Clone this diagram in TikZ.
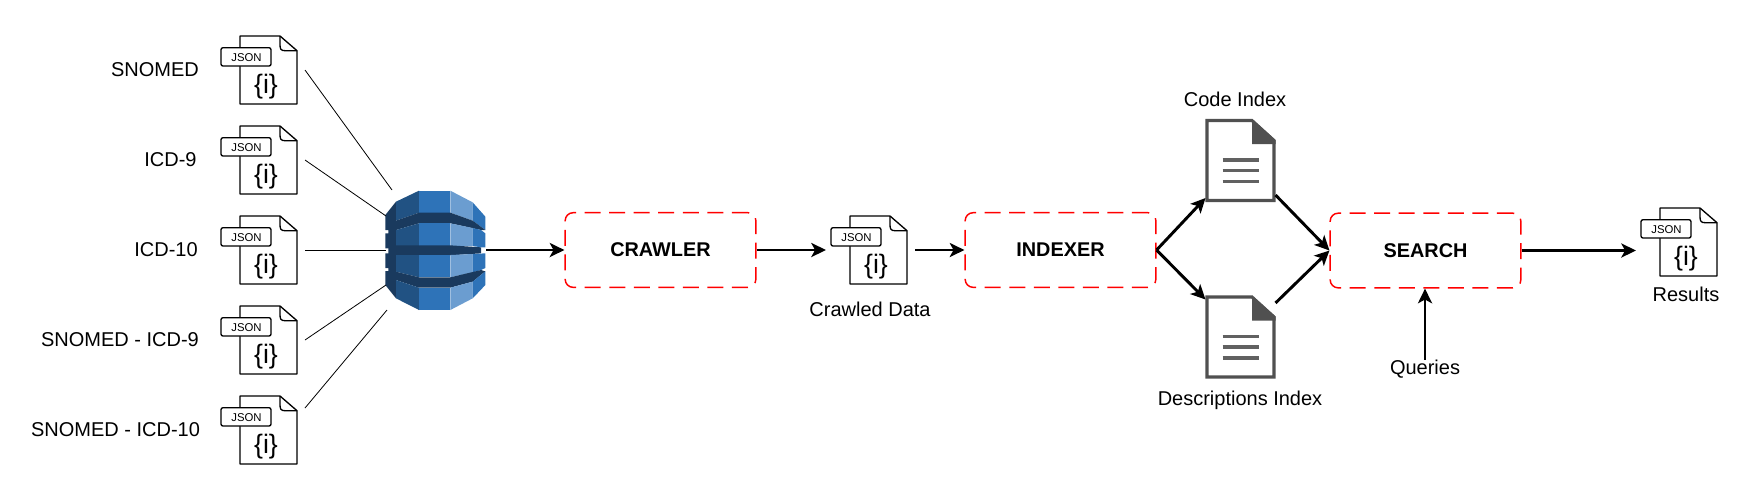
\documentclass[tikz,border=0pt]{standalone}
\usepackage{fontspec}
\usetikzlibrary{arrows.meta}
\setmainfont{Liberation Sans}

\definecolor{storedark}{HTML}{1A3A5E}
\definecolor{storemid}{HTML}{215283}
\definecolor{storeblue}{HTML}{2E73B8}
\definecolor{storelight}{HTML}{6B9DD0}
\definecolor{docgray}{HTML}{505050}

\tikzset{
  filelabel/.style={font=\fontsize{15}{18}\selectfont, inner sep=0pt},
  stepbox/.style={draw=red, line width=1.1pt, dash pattern=on 12pt off 6.4pt, rounded corners=6pt,
    minimum width=143pt, minimum height=56pt, inner sep=0pt, font=\bfseries\fontsize{14.9}{17}\selectfont},
  thinlink/.style={line width=0.6pt},
  flowarrow/.style={line width=2.2pt, -{Stealth[length=11pt,width=10.5pt,inset=2.8pt]}},
  pics/jsonfile/.style={code={
    \draw[line width=1pt, line join=round, fill=white] (-19,-34) -- (21,-34) -- (38,-19.3) -- (38,34) -- (-19,34) -- cycle;
    \draw[line width=1pt, line join=round] (21,-34) -- (21,-25) .. controls (21,-21) and (22,-19.3) .. (26,-19.3) -- (38,-19.3);
    \draw[line width=1pt, rounded corners=1.5pt, fill=white] (-38,-22.3) rectangle (12,-4);
    \node[inner sep=0pt, font=\fontsize{8.5}{10}\selectfont] (-tag) at (-12.5,-12.7) {JSON};
    \node[inner sep=0pt, font=\fontsize{20}{22}\selectfont] (-mark) at (7,17) {\{i\}};
    \coordinate (-in) at (-43,0);
    \coordinate (-out) at (46,0);
  }},
  pics/indexfile/.style={code={
    \draw[line width=2.3pt, docgray, fill=white, miter limit=4] (-33.5,-40) -- (11.5,-40) -- (33.5,-20) -- (33.5,40) -- (-33.5,40) -- cycle;
    \fill[docgray] (11.5,-41.5) -- (35,-20.5) -- (35,-16.5) -- (11.5,-16.5) -- cycle;
    \draw[line width=2.6pt, docgray!90] (-18,-0.5) -- (18,-0.5);
    \draw[line width=2.6pt, docgray!90] (-18,10.2) -- (18,10.2);
    \draw[line width=2.6pt, docgray!90] (-18,20.8) -- (18,20.8);
    \coordinate (-nw) at (-35,-37.5);
    \coordinate (-ne) at (35,-34);
    \coordinate (-sw) at (-35,37.5);
    \coordinate (-se) at (35,34.5);
  }},
  pics/storedb/.style={code={
    % numbers here are on a 3x grid, centre at (195,240)
    \begin{scope}[x=0.25pt,y=-0.25pt,shift={(-195,-240)}]
      % top layer
      \fill[storedark] (78,95) -- (46,135) -- (46,180) -- (55,180) -- (55,190) -- (46,190) -- (46,235) -- (55,235) -- (78,235) -- (78,95) -- cycle;
      \fill[storemid] (78,95) -- (147,62) -- (147,128) -- (78,152) -- cycle;
      \fill[storeblue] (147,62) -- (241,62) -- (241,128) -- (147,128) -- cycle;
      \fill[storelight] (241,62) -- (308,97) -- (308,152) -- (241,128) -- cycle;
      \fill[storeblue] (308,97) -- (346,140) -- (346,180) -- (308,152) -- cycle;
      % first band
      \fill[storedark] (78,152) -- (147,128) -- (241,128) -- (308,152) -- (346,180) -- (333,180) -- (241,160) -- (147,160) -- (78,180) -- cycle;
      % second layer
      \fill[storemid] (78,180) -- (147,160) -- (147,228) -- (78,228) -- cycle;
      \fill[storeblue] (147,160) -- (241,160) -- (241,228) -- (147,228) -- cycle;
      \fill[storelight] (241,160) -- (308,174) -- (308,228) -- (241,228) -- cycle;
      \fill[storeblue] (308,174) -- (333,180) -- (346,190) -- (346,232) -- (333,232) -- (308,228) -- cycle;
      % middle band
      \fill[storedark] (55,226) -- (241,226) -- (333,232) -- (333,250) -- (241,256) -- (55,256) -- cycle;
      % third layer
      \fill[storedark] (46,250) -- (78,250) -- (78,320) -- (78,385) -- (46,345) -- (46,303) -- (55,303) -- (55,294) -- (46,294) -- cycle;
      \fill[storemid] (78,255) -- (147,255) -- (147,322) -- (78,305) -- cycle;
      \fill[storeblue] (147,255) -- (241,255) -- (241,322) -- (147,322) -- cycle;
      \fill[storelight] (241,255) -- (308,252) -- (308,307) -- (241,322) -- cycle;
      \fill[storeblue] (308,252) -- (346,250) -- (346,294) -- (333,300) -- (308,307) -- cycle;
      % last band
      \fill[storedark] (78,305) -- (147,322) -- (241,322) -- (333,300) -- (346,304) -- (308,335) -- (241,353) -- (147,353) -- (78,330) -- cycle;
      % bottom layer
      \fill[storemid] (78,330) -- (147,353) -- (147,420) -- (78,385) -- cycle;
      \fill[storeblue] (147,353) -- (241,353) -- (241,420) -- (147,420) -- cycle;
      \fill[storelight] (241,353) -- (308,335) -- (308,385) -- (241,420) -- cycle;
      \fill[storeblue] (308,335) -- (346,304) -- (346,345) -- (308,385) -- cycle;
    \end{scope}
    \coordinate (-e) at (51,0);
    \coordinate (-a) at (-43,-60);
    \coordinate (-b) at (-49,-34);
    \coordinate (-c) at (-49,0);
    \coordinate (-d) at (-49,35);
    \coordinate (-f) at (-48,60);
  }}
}

\begin{document}
\begin{tikzpicture}[x=0.75pt,y=-0.75pt]
\useasboundingbox (0,0) rectangle (1751,501);

% source files
\pic (snomed) at (259,70) {jsonfile};
\pic (icdnine) at (259,160) {jsonfile};
\pic (icdten) at (259,250) {jsonfile};
\pic (mapnine) at (259,340) {jsonfile};
\pic (mapten) at (259,430) {jsonfile};

% source names
\node[filelabel] (snomedname) at (155,69.5) {SNOMED};
\node[filelabel] (icdninename) at (170.5,159.5) {ICD-9};
\node[filelabel] (icdtenname) at (166,250) {ICD-10};
\node[filelabel] (mapninename) at (120,339.5) {SNOMED - ICD-9};
\node[filelabel] (maptenname) at (115.5,429.5) {SNOMED - ICD-10};

% database
\pic (store) at (435,250) {storedb};

% steps
\node[stepbox] (crawler) at (660.5,250) {CRAWLER};
\node[stepbox] (indexer) at (1060.5,250) {INDEXER};
\node[stepbox] (search) at (1425.5,250.5) {SEARCH};

% middle and end files
\pic (crawled) at (869,250) {jsonfile};
\pic (codeidx) at (1240.5,160.5) {indexfile};
\pic (descidx) at (1240.5,337) {indexfile};
\pic (results) at (1679,242) {jsonfile};

\node[filelabel] (crawledname) at (870,309.5) {Crawled Data};
\node[filelabel] (codename) at (1235,99) {Code Index};
\node[filelabel] (descname) at (1240,400) {Descriptions Index};
\node[filelabel] (queries) at (1425,369) {Queries};
\node[filelabel] (resultsname) at (1686,294) {Results};

% free start of the last link
\coordinate (maptenout) at (305,408);

% thin links into the database
\draw[thinlink] (snomed-out) -- (store-a);
\draw[thinlink] (icdnine-out) -- (store-b);
\draw[thinlink] (icdten-out) -- (store-c);
\draw[thinlink] (mapnine-out) -- (store-d);
\draw[thinlink] (maptenout) -- (store-f);

% flow
\draw[flowarrow] (store-e) -- (crawler.west);
\draw[flowarrow] (crawler.east) -- (crawled-in);
\draw[flowarrow] (crawled-out) -- (indexer.west);
\draw[flowarrow] (indexer.east) -- (codeidx-sw);
\draw[flowarrow] (indexer.east) -- (descidx-nw);
\draw[flowarrow] (codeidx-se) -- (search.west);
\draw[flowarrow] (descidx-ne) -- (search.west);
\draw[flowarrow] (search.east) -- (search.east -| results-in);
\draw[flowarrow] (queries.north) -- (queries.north |- search.south);

\end{tikzpicture}
\end{document}
